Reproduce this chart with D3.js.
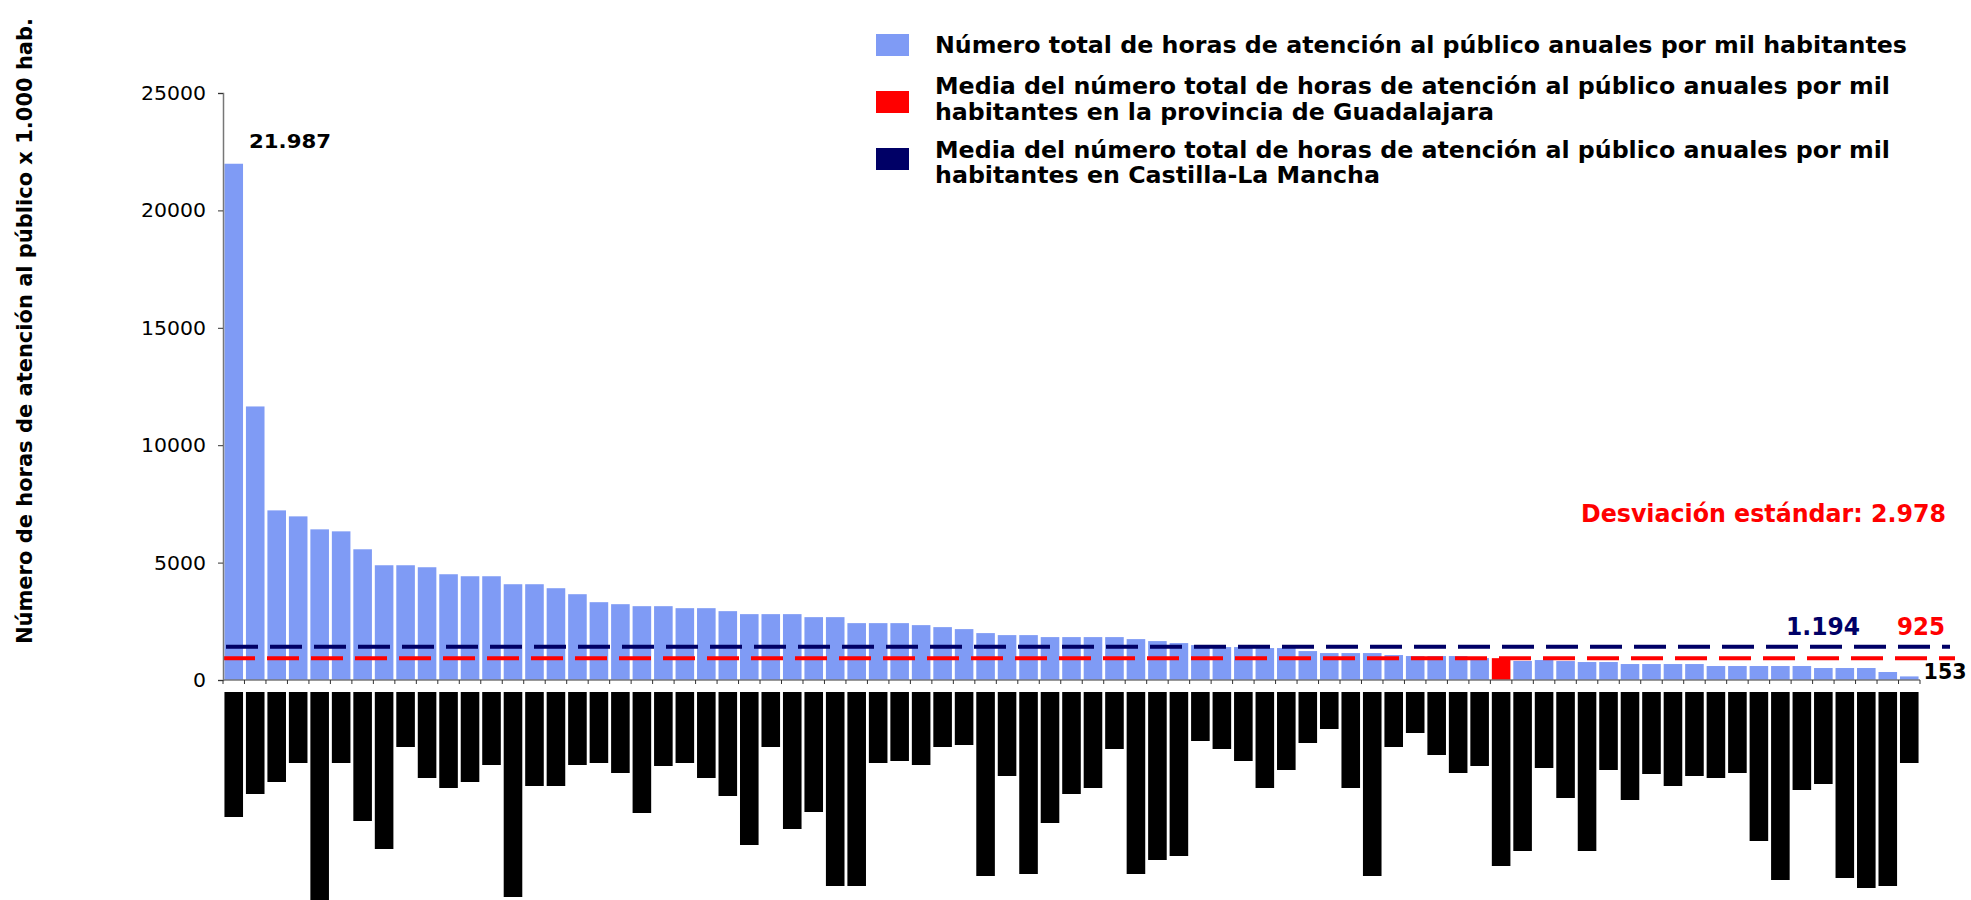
<!DOCTYPE html>
<html><head><meta charset="utf-8">
<script src="https://cdn.jsdelivr.net/npm/d3@7"></script>
<style>
body{margin:0;background:#fff}
svg{display:block}
text{font-family:"DejaVu Sans",Verdana,sans-serif}
</style>
</head><body><svg id="c" width="1971" height="900"></svg>
<script>
// ---- data ----
const hours = [21987, 11650, 7224, 6969, 6416, 6331, 5567, 4887, 4887, 4802,
  4504, 4419, 4419, 4079, 4079, 3909, 3654, 3314, 3229, 3144,
  3144, 3059, 3059, 2932, 2805, 2805, 2805, 2677, 2677, 2422,
  2422, 2422, 2337, 2252, 2167, 1997, 1912, 1912, 1827, 1827,
  1827, 1827, 1742, 1657, 1572, 1487, 1402, 1402, 1360, 1360,
  1232, 1147, 1147, 1147, 1062, 1020, 1020, 1020, 935, 930,
  810, 850, 807, 765, 765, 680, 680, 680, 680, 595,
  595, 595, 595, 595, 510, 510, 510, 340, 153];
const categories = hours.map((d, i) => "M" + (i + 1));
// length of each (blacked-out) category label
const labelLengths = [125, 102, 90, 71, 208, 71, 129, 157, 55, 86,
  96, 90, 73, 205, 94, 94, 73, 71, 81, 121,
  74, 71, 86, 104, 153, 55, 137, 120, 194, 194,
  71, 69, 73, 55, 53, 184, 84, 182, 131, 102,
  96, 57, 182, 168, 164, 49, 57, 69, 96, 78,
  51, 37, 96, 184, 55, 41, 63, 81, 74, 174,
  159, 76, 106, 159, 78, 108, 82, 94, 84, 86,
  81, 149, 188, 98, 92, 186, 196, 194, 71];
const highlightIndex = 59;            // Guadalajara
const yTicks = [0, 5000, 10000, 15000, 20000, 25000];
const refLines = [
  {key: "clm", level: 1415, label: "1.194"},
  {key: "gu",  level: 925,  label: "925"}
];
const legendItems = [
  {key: "bar", lines: ["Número total de horas de atención al público anuales por mil habitantes"]},
  {key: "gu",  lines: ["Media del número total de horas de atención al público anuales por mil", "habitantes en la provincia de Guadalajara"]},
  {key: "clm", lines: ["Media del número total de horas de atención al público anuales por mil", "habitantes en Castilla-La Mancha"]}
];
const colors = {bar: "#7f9bf5", gu: "#ff0000", clm: "#000066"};
const maxLabel = "21.987", minLabel = "153", sdLabel = "Desviación estándar: 2.978";
const yTitle = "Número de horas de atención al público x 1.000 hab.";

// ---- chart ----
const svg = d3.select("#c");
svg.append("rect").attr("width", 1971).attr("height", 900).attr("fill", "#fff");

// stretch DejaVu glyphs to the wider Verdana-like widths of the original
function fitText(sel, w) {
  sel.attr("textLength", w).attr("lengthAdjust", "spacingAndGlyphs");
  return sel;
}
const legendWidths = [[972], [955, 559], [955, 445]];
const legendBaselines = [[18.7], [3, 29], [9.7, 35.3]];

const x = d3.scaleBand().domain(d3.range(hours.length)).range([223, 1920])
  .paddingInner(0.135).paddingOuter(0.0675);
const y = d3.scaleLinear().domain([0, 25000]).range([680, 93]);
const lab = d3.scaleLinear().domain([0, 208]).range([692, 900]);
const bw = x.bandwidth();

// bars
svg.append("g").selectAll("rect").data(hours).join("rect")
  .attr("x", (d, i) => x(i)).attr("width", bw)
  .attr("y", d => y(d)).attr("height", d => y(0) - y(d))
  .attr("fill", (d, i) => i === highlightIndex ? colors.gu : colors.bar);

// reference lines
const lineExtents = {clm: [226, 1950], gu: [223, 1955]};
svg.append("g").selectAll("line").data(refLines).join("line")
  .attr("x1", d => lineExtents[d.key][0]).attr("x2", d => lineExtents[d.key][1])
  .attr("y1", d => y(d.level)).attr("y2", d => y(d.level))
  .attr("stroke", d => colors[d.key]).attr("stroke-width", 4)
  .attr("stroke-dasharray", "32,12");

// y axis
const yAxis = svg.append("g").attr("transform", "translate(223,0)")
  .call(d3.axisLeft(y).tickValues(yTicks).tickSize(5).tickPadding(12).tickFormat(d3.format("d")));
yAxis.select(".domain").attr("stroke", "#777").attr("stroke-width", 1.5);
yAxis.selectAll(".tick line").attr("stroke", "#333");
yAxis.selectAll(".tick text").attr("font-size", 20).attr("fill", "#000")
  .style("font-family", "'DejaVu Sans',Verdana,sans-serif")
  .each(function(d) { fitText(d3.select(this), 13 * String(d).length); });

// x axis with ticks at category boundaries
const xAxis = svg.append("g").attr("transform", `translate(0,${y(0)})`);
xAxis.append("line").attr("x1", 223).attr("x2", 1920).attr("stroke", "#777").attr("stroke-width", 1.5);
const step = x.step();
xAxis.selectAll("line.t").data(d3.range(hours.length + 1)).join("line").attr("class", "t")
  .attr("x1", i => x(0) - step * x.paddingInner() / 2 + i * step)
  .attr("x2", i => x(0) - step * x.paddingInner() / 2 + i * step)
  .attr("y1", 0).attr("y2", 4).attr("stroke", "#333");

// blacked-out category labels
svg.append("g").selectAll("rect").data(labelLengths).join("rect")
  .attr("x", (d, i) => x(i)).attr("width", bw)
  .attr("y", lab(0)).attr("height", d => lab(d) - lab(0))
  .attr("fill", "#000");

// y title
fitText(svg.append("text").attr("transform", "translate(32,331) rotate(-90)")
  .attr("text-anchor", "middle").attr("font-size", 21).attr("font-weight", "bold")
  .text(yTitle), 626);

// value labels
fitText(svg.append("text").attr("x", x(0) + bw + 6).attr("y", y(hours[0]) - 16)
  .attr("font-size", 20).attr("font-weight", "bold").text(maxLabel), 82);
fitText(svg.append("text").attr("x", x(hours.length - 1) + bw + 5).attr("y", y(0) - 1)
  .attr("font-size", 21).attr("font-weight", "bold").text(minLabel), 43);
fitText(svg.append("text").attr("x", 1786).attr("y", 635)
  .attr("font-size", 24).attr("font-weight", "bold").attr("fill", colors.clm).text(refLines[0].label), 74);
fitText(svg.append("text").attr("x", 1897).attr("y", 635)
  .attr("font-size", 24).attr("font-weight", "bold").attr("fill", colors.gu).text(refLines[1].label), 48);
fitText(svg.append("text").attr("x", 1581).attr("y", 522)
  .attr("font-size", 24).attr("font-weight", "bold").attr("fill", colors.gu).text(sdLabel), 365);

// legend
const legY = [34, 91, 148];
const lg = svg.append("g").selectAll("g").data(legendItems).join("g")
  .attr("transform", (d, i) => `translate(876,${legY[i]})`);
lg.append("rect").attr("width", 33).attr("height", 22).attr("fill", d => colors[d.key]);
lg.each(function(d, i) {
  const g = d3.select(this);
  d.lines.forEach((ln, j) => fitText(g.append("text").attr("font-size", 22.5).attr("font-weight", "bold")
    .attr("x", 59).attr("y", legendBaselines[i][j]).text(ln), legendWidths[i][j]));
});
</script>
</body></html>
